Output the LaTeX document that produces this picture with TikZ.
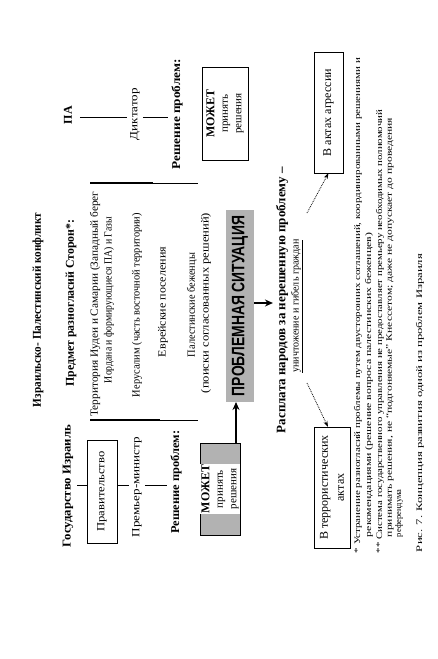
\documentclass[tikz,border=0pt]{standalone}
\usepackage{fontspec}
\setmainfont{Liberation Serif}
\setsansfont{Liberation Sans}
\usepackage{graphicx}
\usetikzlibrary{arrows.meta,calc}
\newcommand{\fitw}[2]{\resizebox{#1}{\height}{#2}}
\begin{document}
\begin{tikzpicture}[x=1pt,y=-1pt,
  rt/.style={rotate=90, inner sep=0pt, outer sep=0pt},
  hd/.style={rt, font=\fontsize{12}{14}\selectfont\bfseries},
  tx/.style={rt, font=\fontsize{11}{13}\selectfont},
  fn/.style={rt, anchor=west, font=\fontsize{8.5}{10}\selectfont},
  link/.style={line width=0.6pt},
  bigarrow/.style={line width=2pt, -{Stealth[length=8pt,width=7pt]}},
  dotarrow/.style={line width=0.8pt, densely dotted, -{Stealth[length=6pt,width=4pt]}},
  box/.style={rt, draw, line width=0.8pt, align=center},
]
\useasboundingbox[fill=white] (0,0) rectangle (437,659);

\coordinate (yI) at (0,485);
\coordinate (yP) at (0,117);
\coordinate (yM) at (0,303);

% headings
\node[hd] (title) at (38,310) {\fitw{194pt}{Израильско- Палестинский конфликт}};
\node[hd] (israel) at (68,486) {\fitw{122pt}{Государство Израиль}};
\node[hd] (pa) at (68,115) {ПА};
\node[hd] (subject) at (71,303) {\fitw{167pt}{Предмет разногласий Сторон*:}};

% subject column
\node[tx] (t1) at (95,304) {\fitw{225pt}{Территория Иудеи и Самарии (Западный берег}};
\node[tx] (t2) at (109,300) {\fitw{166pt}{Иордана и формирующиеся ПА) и Газы}};
\node[tx] (jer) at (137,305) {\fitw{184pt}{Иерусалим (часть восточной территории)}};
\node[tx] (settl) at (163,302) {\fitw{110pt}{Еврейские поселения}};
\node[tx] (refug) at (192,305) {\fitw{104pt}{Палестинские беженцы}};
\node[tx] (search) at (206,303) {\fitw{180pt}{(поиски согласованных решений)}};

% column separators
\draw[line width=1.4pt] (90,183) -- (153,183);
\draw[line width=0.7pt] (153,183) -- (198,183);
\draw[line width=1.4pt] (90,420) -- (160,420);
\draw[line width=0.7pt] (160,420) -- (198,420);

% Israel chain
\node[box, minimum width=103pt, minimum height=30pt, font=\fontsize{11}{13}\selectfont] (gov) at (102,491.5) {\fitw{80pt}{Правительство}};
\node[tx] (pm) at (137,487) {\fitw{100pt}{Премьер-министр}};
\node[hd] (solveI) at (176,482) {\fitw{103pt}{Решение проблем:}};
\draw[link] ($(israel.south |- yI)+(4,0)$) -- (gov.north |- yI);
\draw[link] (gov.south |- yI) -- ($(pm.north |- yI)+(-3,0)$);
\draw[link] ($(pm.south |- yI)+(3,0)$) -- ($(solveI.north |- yI)+(-3,0)$);

% PA chain
\node[tx] (dict) at (135,114) {\fitw{52pt}{Диктатор}};
\node[hd] (solveP) at (177,114) {\fitw{110pt}{Решение проблем:}};
\draw[link] ($(pa.south |- yP)+(8,0)$) -- ($(dict.north |- yP)+(-3,0)$);
\draw[link] ($(dict.south |- yP)+(3,0)$) -- ($(solveP.north |- yP)+(-3,0)$);

% decision boxes
\node[box, fill=black!30, minimum width=92pt, minimum height=40pt] (mayI) at (220,489) {};
\node[rt, fill=white, inner sep=1pt, align=center, font=\fontsize{11}{13.5}\selectfont] (mayIt) at (mayI) {{\bfseries\fontsize{12}{13.5}\selectfont МОЖЕТ}\\принять\\решения};
\node[box, minimum width=93pt, minimum height=46pt, font=\fontsize{11}{13.5}\selectfont] (mayP) at (225,113.5) {{\bfseries\fontsize{12}{13.5}\selectfont МОЖЕТ}\\принять\\решения};

% problem situation
\node[rt, fill=black!30, minimum width=192pt, minimum height=28pt, font=\sffamily\bfseries\fontsize{18}{18}\selectfont] (prob) at (240,306) {\fitw{180pt}{ПРОБЛЕМНАЯ СИТУАЦИЯ}};
\coordinate (a1) at ($(mayI.east)+(16,0)$);
\draw[bigarrow] (a1) -- (a1 |- prob.west);

% consequence
\node[rt, font=\bfseries\fontsize{13}{15}\selectfont] (pay) at (282,300) {\fitw{266pt}{Расплата народов за нерешенную проблему –}};
\node[rt, font=\fontsize{10.5}{12}\selectfont] (dest) at (297,306) {\fitw{133pt}{\underline{уничтожение и гибель граждан}}};
\draw[bigarrow] (prob.south |- yM) -- ($(pay.north |- yM)+(-3,0)$);

% outcome boxes
\node[box, minimum width=121pt, minimum height=36pt, font=\fontsize{12}{16}\selectfont] (terr) at (332,487.5) {В террористических\\актах};
\node[box, minimum width=121pt, minimum height=29pt, font=\fontsize{12}{14}\selectfont] (agg) at (328.5,112.5) {В актах агрессии};
\coordinate (dl) at (307,383);
\coordinate (dr) at (307,213);
\draw[dotarrow] (dl) -- ($(terr.east)+(-4,0)$);
\draw[dotarrow] (dr) -- (agg.west);

% footnotes
\node[fn] (f1) at (358,553) {\fitw{495pt}{* Устранение разногласий проблемы путем двусторонних соглашений, координированными решениями и}};
\node[fn] (f2) at (369,537) {\fitw{304pt}{рекомендациями (решение вопроса палестинских беженцев)}};
\node[fn] (f3) at (380,553) {\fitw{443pt}{** Система государственного управления не предоставляет премьеру необходимых полномочий}};
\node[fn] (f4) at (390,537) {\fitw{419pt}{принимать решения, не “подгоняемые” Кнессетом; даже не допускает до проведения}};
\node[fn] (f5) at (399,537) {референдума};
\node[fn] (cap) at (420,552) {\fitw{298pt}{Рис. 7. Концепция развития одной из проблем Израиля}};
\end{tikzpicture}
\end{document}
